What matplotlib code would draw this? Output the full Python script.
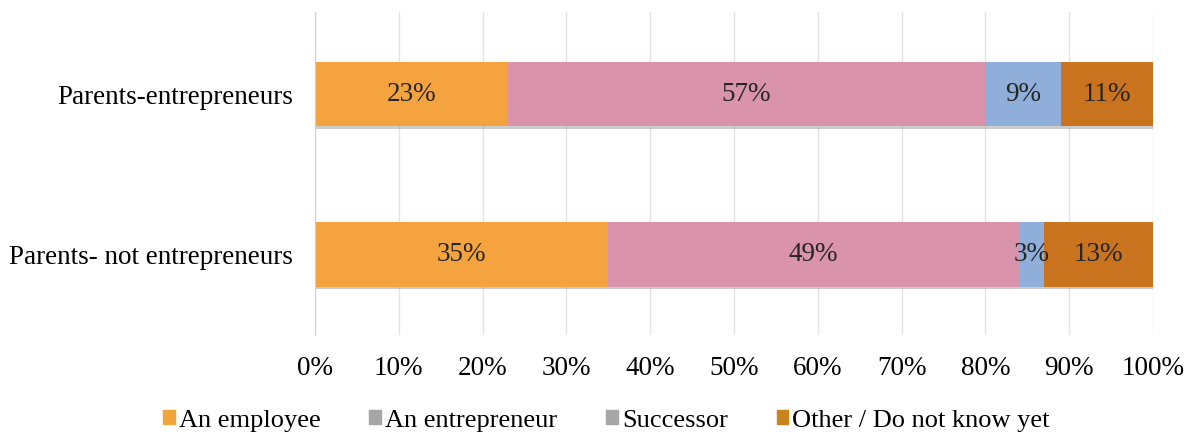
import matplotlib
matplotlib.use("Agg")
import matplotlib.pyplot as plt
import matplotlib.patheffects as pe
from matplotlib.patches import Patch

plt.rcParams["font.family"] = ["Liberation Serif", "DejaVu Serif"]

groups = ["Parents- not entrepreneurs", "Parents-entrepreneurs"]
series = ["An employee", "An entrepreneur", "Successor", "Other / Do not know yet"]
employee = [35, 23]
entrepreneur = [49, 57]
successor = [3, 9]
other = [13, 11]

bar_colors = ["#F5A33F", "#D993AA", "#8FAEDA", "#C9731F"]
legend_colors = ["#F2A33A", "#A6A6A6", "#A6A6A6", "#C8841C"]

fig = plt.figure(figsize=(11.96, 4.36), dpi=100)
ax = fig.add_axes([0.2634, 0.232, 0.7007, 0.740])

shadow = [pe.SimplePatchShadow(offset=(1, -2), shadow_rgbFace="#9A9A9A", alpha=0.5), pe.Normal()]

values = [employee, entrepreneur, successor, other]
ypos = range(len(groups))
left = [0] * len(groups)
for vals, color in zip(values, bar_colors):
    bars = ax.barh(ypos, vals, left=left, height=0.4, color=color, zorder=3)
    for b, v, l in zip(bars, vals, left):
        b.set_path_effects(shadow)
        ax.text(l + v / 2, b.get_y() + b.get_height() / 2, f"{v}%",
                ha="center", va="center", fontsize=19.5, color="#262626", zorder=4)
    left = [a + b for a, b in zip(left, vals)]

ax.set_xlim(0, 100)
ax.set_ylim(-0.5, 1.51)
ax.set_xticks(range(0, 101, 10))
ax.set_xticklabels([f"{t}%" for t in range(0, 101, 10)], fontsize=19.5)
ax.set_yticks(list(ypos))
ax.set_yticklabels(groups, fontsize=19.5)
ax.tick_params(length=0, pad=15, axis="x")
ax.tick_params(length=0, pad=16, axis="y")
ax.grid(axis="x", color="#E3E3E3", linewidth=1, zorder=0)
for s in ["top", "right", "bottom"]:
    ax.spines[s].set_visible(False)
ax.spines["left"].set_color("#D0D0D0")
ax.spines["left"].set_zorder(5)

handles = [Patch(color=c, label=s) for c, s in zip(legend_colors, series)]
fig.legend(handles=handles, loc="center", bbox_to_anchor=(0.507, 0.035), ncol=4,
           frameon=False, fontsize=19, handlelength=0.45, handleheight=0.45,
           handletextpad=0.15, columnspacing=1.85)

fig.savefig("out.png", dpi=100)
